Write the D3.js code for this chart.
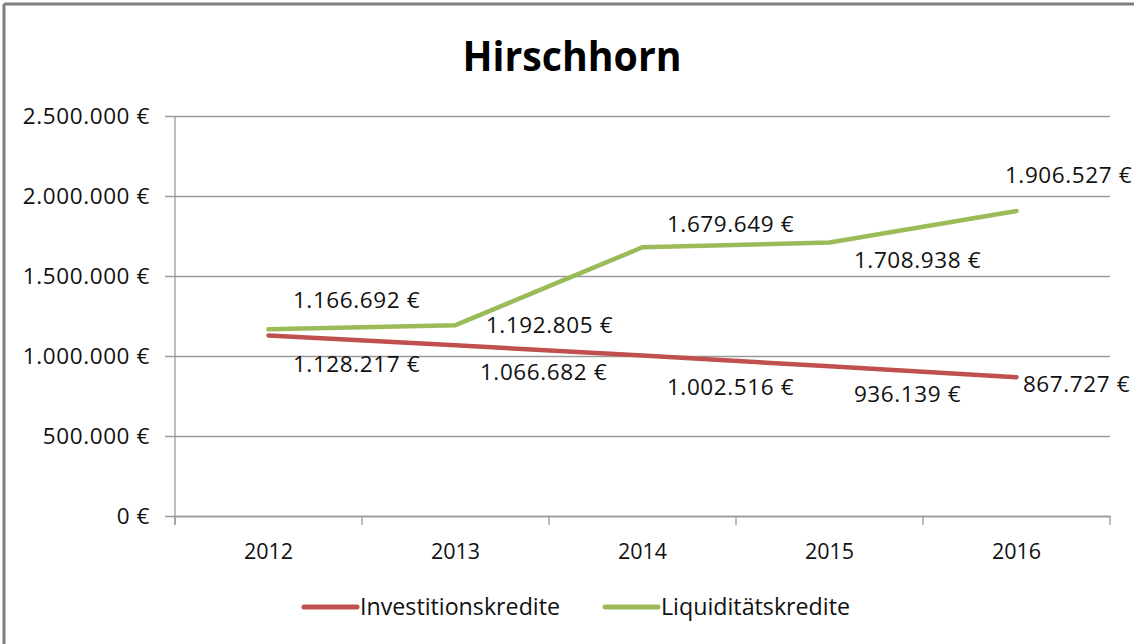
<!DOCTYPE html>
<html>
<head>
<meta charset="utf-8">
<script src="https://cdn.jsdelivr.net/npm/d3@7"></script>
<style>
  html, body { margin: 0; padding: 0; background: #fff; }
  svg { display: block; }
  text { font-family: "Open Sans", "Noto Sans", sans-serif; fill: #111; }
</style>
</head>
<body>
<svg id="chart" width="1134" height="644"></svg>
<script>
// Kreditstände der Gemeinde Hirschhorn, 2012–2016
const years = ["2012", "2013", "2014", "2015", "2016"];
const investitionskredite = [1128217, 1066682, 1002516, 936139, 867727];
const liquiditaetskredite = [1166692, 1192805, 1679649, 1708938, 1906527];
const seriesNames = ["Investitionskredite", "Liquiditätskredite"];
const yTicks = [0, 500000, 1000000, 1500000, 2000000, 2500000];

// label placement relative to each point (dx to label centre, dy to baseline)
const labelOffsets = {
  "Investitionskredite": [[88, 37], [88, 35], [88, 39], [78, 36], [60, 15]],
  "Liquiditätskredite": [[88, -21], [94, 8], [88, -15], [88, 25], [52, -28]]
};
const colors = { "Investitionskredite": "#C0504D", "Liquiditätskredite": "#9BBB59" };

const svg = d3.select("#chart");
const W = 1134, H = 644;
const plot = { left: 175, right: 1110, top: 116, bottom: 516 };
const labelSize = 22.5, labelSpacing = 0.6;

// German number format: 1.234.567 €
const de = d3.formatLocale({ decimal: ",", thousands: ".", grouping: [3], currency: ["", " €"] });
const fmt = v => de.format(",.0f")(v) + " €";

// frame (top and left edges visible)
svg.append("line").attr("x1", 4).attr("x2", W).attr("y1", 4).attr("y2", 4)
  .attr("stroke", "#7f7f7f").attr("stroke-width", 3);
svg.append("line").attr("x1", 4).attr("x2", 4).attr("y1", 4).attr("y2", H)
  .attr("stroke", "#7f7f7f").attr("stroke-width", 3);

// title
svg.append("text").attr("x", 572).attr("y", 71).attr("text-anchor", "middle")
  .attr("font-size", 42).attr("font-weight", 700)
  .attr("textLength", 219).attr("lengthAdjust", "spacingAndGlyphs")
  .style("fill", "#000").text("Hirschhorn");

const x = d3.scaleBand().domain(years).range([plot.left, plot.right]);
const y = d3.scaleLinear().domain([0, 2500000]).range([plot.bottom, plot.top]);

// horizontal gridlines with left tick stubs
const yAxis = d3.axisLeft(y).tickValues(yTicks).tickFormat(fmt)
  .tickSize(-(plot.right - plot.left)).tickPadding(25);
const gy = svg.append("g").attr("transform", `translate(${plot.left},0)`).call(yAxis);
gy.select(".domain").remove();
gy.selectAll(".tick line").attr("x1", -10).attr("stroke", "#9a9a9a").attr("stroke-width", 1.3);
gy.selectAll(".tick text").attr("font-size", labelSize).attr("letter-spacing", labelSpacing)
  .attr("dy", "0.35em").style("fill", "#111");

// vertical axis line
svg.append("line").attr("x1", plot.left).attr("x2", plot.left)
  .attr("y1", plot.top).attr("y2", plot.bottom + 9)
  .attr("stroke", "#9a9a9a").attr("stroke-width", 1.3);

// category axis with ticks between categories
const gx = svg.append("g").attr("transform", `translate(0,${plot.bottom})`)
  .call(d3.axisBottom(x).tickSize(0).tickPadding(28));
gx.select(".domain").attr("stroke", "#9a9a9a").attr("stroke-width", 1.3);
gx.selectAll(".tick text").attr("font-size", 21.5).style("fill", "#111");
const bounds = years.map(d => x(d)).concat([plot.right]);
gx.selectAll(".sep").data(bounds).join("line").attr("class", "sep")
  .attr("x1", d => d).attr("x2", d => d).attr("y1", 0).attr("y2", 9)
  .attr("stroke", "#9a9a9a").attr("stroke-width", 1.3);

// lines
const series = [
  { name: seriesNames[0], values: investitionskredite },
  { name: seriesNames[1], values: liquiditaetskredite }
];
const line = d3.line().x((d, i) => x(years[i]) + x.bandwidth() / 2).y(d => y(d));
svg.selectAll(".series").data(series).join("path").attr("class", "series")
  .attr("d", s => line(s.values)).attr("fill", "none")
  .attr("stroke", s => colors[s.name]).attr("stroke-width", 4.5)
  .attr("stroke-linejoin", "round").attr("stroke-linecap", "round");

// value labels
series.forEach(s => {
  svg.selectAll(null).data(s.values).join("text")
    .attr("x", (d, i) => x(years[i]) + x.bandwidth() / 2 + labelOffsets[s.name][i][0])
    .attr("y", (d, i) => y(d) + labelOffsets[s.name][i][1])
    .attr("text-anchor", "middle").attr("font-size", labelSize)
    .attr("letter-spacing", labelSpacing)
    .text(d => fmt(d));
});

// legend
const legend = [
  { name: seriesNames[0], x: 304, w: 200 },
  { name: seriesNames[1], x: 605, w: 189 }
];
legend.forEach(l => {
  svg.append("line").attr("x1", l.x).attr("x2", l.x + 53).attr("y1", 607).attr("y2", 607)
    .attr("stroke", colors[l.name]).attr("stroke-width", 5).attr("stroke-linecap", "round");
  svg.append("text").attr("x", l.x + 56).attr("y", 615).attr("font-size", 23)
    .attr("textLength", l.w).attr("lengthAdjust", "spacingAndGlyphs").text(l.name);
});
</script>
</body>
</html>
